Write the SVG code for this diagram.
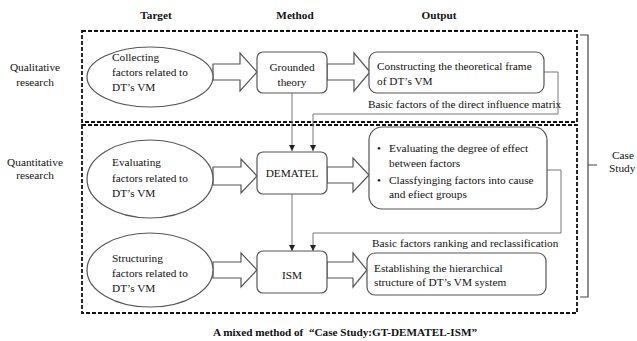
<svg xmlns="http://www.w3.org/2000/svg" width="637" height="341" viewBox="0 0 637 341">
<defs>
<style>
text{font-family:"Liberation Serif","Times New Roman",serif;font-size:11.3px;fill:#111}
.b{font-weight:bold;font-size:11.2px}
.m{text-anchor:middle}
.frame{fill:none;stroke:#111;stroke-width:1.8;stroke-dasharray:4 2}
.node{fill:#fff;stroke:#555;stroke-width:1.2}
.harrow{fill:#fff;stroke:#555;stroke-width:1.2;stroke-linejoin:miter}
.conn{fill:none;stroke:#777;stroke-width:1}
</style>
<marker id="ah" markerWidth="8" markerHeight="8" refX="7" refY="4" orient="auto" markerUnits="userSpaceOnUse">
<path d="M1,1 L7,4 L1,7 Z" fill="#222"/>
</marker>
</defs>
<rect width="637" height="341" fill="#fff"/>
<g id="headers">
<text class="b m" x="156" y="19">Target</text>
<text class="b m" x="295" y="19">Method</text>
<text class="b m" x="439" y="19">Output</text>
</g>
<g id="frames">
<rect class="frame" x="82" y="31" width="495" height="91"/>
<rect class="frame" x="82" y="125" width="495" height="188"/>
</g>
<g id="row-labels">
<text class="m" x="35" y="71">Qualitative</text>
<text class="m" x="35" y="86">research</text>
<text class="m" x="35" y="166">Quantitative</text>
<text class="m" x="35" y="179">research</text>
</g>
<g id="connectors">
<path class="conn" d="M292,93 V151" marker-end="url(#ah)"/>
<path class="conn" d="M544,72 H558 V114 H313 V151" marker-end="url(#ah)"/>
<path class="conn" d="M292,194 V251" marker-end="url(#ah)"/>
<path class="conn" d="M547,170 H561 V233 H313 V251" marker-end="url(#ah)"/>
<polygon class="harrow" points="213,64 240,64 240,53 257,72 240,91 240,80 213,80"/>
<polygon class="harrow" points="327,64 354,64 354,53 370,72 354,91 354,80 327,80"/>
<polygon class="harrow" points="213,167 241,167 241,159 257,176 241,193 241,185 213,185"/>
<polygon class="harrow" points="327,167 353,167 353,158 369,175 353,192 353,183 327,183"/>
<polygon class="harrow" points="213,262 241,262 241,253 257,270 241,287 241,278 213,278"/>
<polygon class="harrow" points="327,262 353,262 353,253 367,270 353,287 353,278 327,278"/>
<text x="368" y="108">Basic factors of the direct influence matrix</text>
<text x="372" y="247">Basic factors ranking and reclassification</text>
</g>
<g id="target-collect">
<ellipse class="node" cx="150" cy="77" rx="63" ry="30"/>
<text x="112" y="61">Collecting</text>
<text x="112" y="76">factors related to</text>
<text x="112" y="91">DT’s VM</text>
</g>
<g id="method-gt">
<rect class="node" x="257" y="52" width="70" height="41" rx="6"/>
<text class="m" x="292" y="71">Grounded</text>
<text class="m" x="292" y="86">theory</text>
</g>
<g id="output-frame">
<rect class="node" x="369" y="52" width="175" height="41" rx="8"/>
<text x="377" y="70">Constructing the theoretical frame</text>
<text x="377" y="85">of DT’s VM</text>
</g>
<g id="target-evaluate">
<ellipse class="node" cx="150" cy="179" rx="63" ry="39"/>
<text x="112" y="166">Evaluating</text>
<text x="112" y="182">factors related to</text>
<text x="112" y="197">DT’s VM</text>
</g>
<g id="method-dematel">
<rect class="node" x="257" y="152" width="70" height="42" rx="6"/>
<text class="m" x="292" y="177">DEMATEL</text>
</g>
<g id="output-evaluate">
<rect class="node" x="369" y="127" width="178" height="82" rx="13"/>
<text x="377" y="152">•</text>
<text x="389" y="152">Evaluating the degree of effect</text>
<text x="389" y="167">between factors</text>
<text x="377" y="184">•</text>
<text x="389" y="184">Classfyinging factors into cause</text>
<text x="389" y="198">and efiect groups</text>
</g>
<g id="target-structure">
<ellipse class="node" cx="150" cy="270" rx="63" ry="37"/>
<text x="112" y="262">Structuring</text>
<text x="112" y="277">factors related to</text>
<text x="112" y="292">DT’s VM</text>
</g>
<g id="method-ism">
<rect class="node" x="257" y="251" width="70" height="42" rx="6"/>
<text class="m" x="292" y="279">ISM</text>
</g>
<g id="output-structure">
<rect class="node" x="367" y="253" width="179" height="42" rx="8"/>
<text x="374" y="272">Establishing the hierarchical</text>
<text x="374" y="286">structure of DT’s VM system</text>
</g>
<g id="case-study">
<path d="M580,35 H588 V297 H580 M588,165 H597" fill="none" stroke="#444" stroke-width="1.2"/>
<text x="612" y="159">Case</text>
<text x="609" y="172">Study</text>
</g>
<g id="caption">
<text class="b m" x="345" y="336">A mixed method of &#160;“Case Study:GT-DEMATEL-ISM”</text>
</g>
</svg>
